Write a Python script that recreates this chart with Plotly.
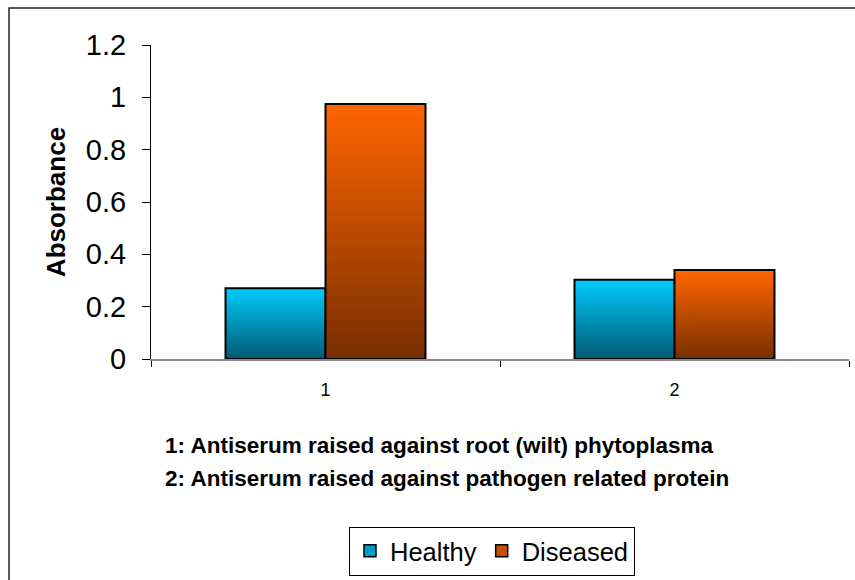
import plotly.graph_objects as go

categories = ["1", "2"]
healthy = [0.27, 0.303]
diseased = [0.975, 0.34]
series_names = ["Healthy", "Diseased"]
y_ticks = [0, 0.2, 0.4, 0.6, 0.8, 1.0, 1.2]
y_tick_labels = ["0", "0.2", "0.4", "0.6", "0.8", "1", "1.2"]
notes = ["1: Antiserum raised against root (wilt) phytoplasma",
         "2: Antiserum raised against pathogen related protein"]

FONT = "Liberation Sans, Arial, sans-serif"
N = 40

def lerp(c1, c2, t):
    return "rgb(%d,%d,%d)" % tuple(round(a + (b - a) * t) for a, b in zip(c1, c2))

grads = {
    "Healthy": ((0, 90, 115), (0, 204, 255)),
    "Diseased": ((120, 46, 0), (255, 102, 0)),
}

fig = go.Figure()
for name, vals in zip(series_names, [healthy, diseased]):
    bottom, top = grads[name]
    # overlapping bars from 0 up to a fraction of the value, tallest first -> vertical gradient
    for k in reversed(range(N)):
        fig.add_trace(go.Bar(
            x=categories, y=[v * (k + 1) / N for v in vals],
            offsetgroup=name, marker=dict(color=lerp(bottom, top, (k + 0.5) / N), line=dict(width=0)),
            showlegend=False, hoverinfo="skip"))
    fig.add_trace(go.Bar(
        x=categories, y=vals, offsetgroup=name,
        marker=dict(color="rgba(0,0,0,0)", line=dict(color="black", width=2)),
        showlegend=False, name=name))
    fig.add_trace(go.Bar(
        x=categories, y=[None, None], offsetgroup=name, name=name,
        marker=dict(color=lerp(bottom, top, 0.6), line=dict(color="black", width=1.5)),
        showlegend=True))

for i, t in enumerate(notes):
    fig.add_annotation(text="<b>%s</b>" % t, xref="paper", yref="paper",
                       x=0.017, y=-0.277 - 0.102 * i, xanchor="left", yanchor="middle",
                       showarrow=False, font=dict(size=22.5, color="black", family=FONT))

fig.add_shape(type="rect", xref="paper", yref="paper",
              x0=-0.2034, y0=-0.75, x1=1.03, y1=1.1178,
              line=dict(color="#222222", width=1.5), fillcolor="rgba(0,0,0,0)", layer="below")

fig.update_layout(
    width=855, height=580,
    margin=dict(l=151, r=6, t=45, b=221, autoexpand=False),
    paper_bgcolor="white", plot_bgcolor="white",
    barmode="group", bargap=0.427, bargroupgap=0,
    font=dict(family=FONT, color="black"),
    showlegend=True,
    legend=dict(orientation="h", x=0.4885, xanchor="center", y=-0.534, yanchor="top",
                bordercolor="black", borderwidth=1, font=dict(size=25.5, family=FONT),
                traceorder="normal", itemwidth=30, tracegroupgap=0),
    xaxis=dict(type="category", showline=True, linecolor="#888888", linewidth=1.5,
               ticks="outside", tickson="boundaries", ticklen=6, tickcolor="black",
               tickfont=dict(size=18), ticklabelstandoff=14, showgrid=False, zeroline=False),
    yaxis=dict(range=[0, 1.2], tickvals=y_ticks, ticktext=y_tick_labels,
               showline=True, linecolor="black", linewidth=1,
               ticks="outside", ticklen=8, tickcolor="black", ticklabelstandoff=10,
               tickfont=dict(size=29), showgrid=False, zeroline=False,
               title=dict(text="<b>Absorbance</b>", font=dict(size=26), standoff=12)),
)

fig.write_html("out.html")
